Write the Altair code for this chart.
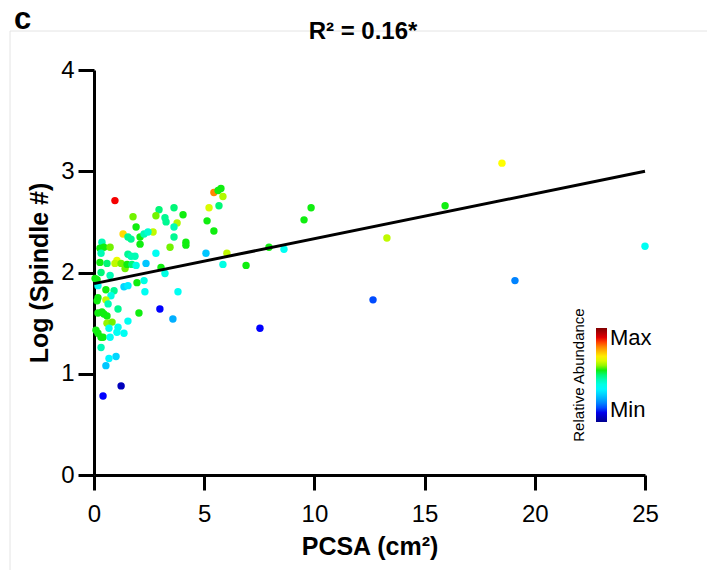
import altair as alt
import pandas as pd

# ---- data ----
pcsa = [
    25.0, 18.51, 19.10, 15.93, 13.29, 12.66, 9.85, 9.53, 8.62, 7.94, 7.53, 6.90,
    6.03, 5.85, 5.08, 5.44, 5.13, 5.67, 5.22, 5.44, 5.63, 5.76, 5.85,
    2.95, 3.63, 4.04, 2.81, 3.22, 3.27, 3.77, 3.63, 2.68, 3.63, 4.17, 4.17,
    3.45, 2.81, 3.04, 3.22, 3.81, 2.99, 3.58, 2.04,
    0.95, 1.32, 1.77, 1.91, 1.54, 1.68, 2.09, 2.09, 2.27, 2.45,
    0.36, 0.27, 0.45, 0.73, 0.32, 0.27, 0.59, 1.04, 0.95, 1.23, 1.41, 1.54,
    1.68, 1.86, 1.50, 1.72, 1.91, 2.36,
    0.32, 0.73, 1.95, 2.27, 0.18, 0.14, 0.54, 0.91, 1.36, 1.54, 0.18, 0.77, 2.31,
    0.14, 0.54, 0.64, 1.09, 0.18, 0.36, 0.45, 0.59, 0.59, 0.82, 0.68, 1.09,
    1.04, 1.54, 1.36, 0.09, 0.18, 0.32, 0.41, 0.73, 0.32, 1.00, 0.68, 0.54,
    1.23, 0.41, 0.05,
]
log_spindle = [
    2.26, 3.08, 1.92, 2.66, 2.34, 1.73, 2.64, 2.52, 2.23, 2.25, 1.45, 2.07,
    2.19, 2.08, 2.19, 2.41, 2.51, 2.66, 2.64, 2.79, 2.81, 2.83, 2.75,
    2.62, 2.64, 2.57, 2.56, 2.54, 2.50, 2.49, 2.45, 2.40, 2.35, 2.30, 2.27,
    2.25, 2.19, 2.05, 1.99, 1.81, 1.64, 1.54, 1.60,
    2.71, 2.38, 2.55, 2.45, 2.35, 2.33, 2.35, 2.28, 2.38, 2.40,
    2.30, 2.24, 2.25, 2.25, 2.19, 2.10, 2.09, 2.12, 2.09, 2.09, 2.04, 2.18,
    2.16, 2.16, 2.08, 2.08, 2.07, 2.09,
    2.00, 1.97, 1.90, 1.92, 1.87, 1.93, 1.83, 1.82, 1.86, 1.87, 1.75, 1.77, 1.81,
    1.72, 1.73, 1.69, 1.64, 1.60, 1.61, 1.59, 1.57, 1.50, 1.51, 1.45, 1.46,
    1.41, 1.52, 1.40, 1.43, 1.40, 1.36, 1.36, 1.36, 1.26, 1.17, 1.15, 1.08,
    0.88, 0.78, 1.94,
]
abundance = [
    0.38, 0.68, 0.20, 0.55, 0.63, 0.15, 0.55, 0.55, 0.38, 0.55, 0.12, 0.55,
    0.63, 0.40, 0.28, 0.55, 0.55, 0.50, 0.65, 0.80, 0.55, 0.55, 0.62,
    0.50, 0.50, 0.55, 0.58, 0.48, 0.48, 0.62, 0.45, 0.63, 0.48, 0.55, 0.55,
    0.58, 0.38, 0.55, 0.40, 0.38, 0.12, 0.25, 0.55,
    0.88, 0.72, 0.58, 0.55, 0.48, 0.48, 0.55, 0.55, 0.45, 0.42,
    0.45, 0.55, 0.55, 0.58, 0.45, 0.55, 0.50, 0.66, 0.63, 0.58, 0.58, 0.48,
    0.45, 0.45, 0.55, 0.50, 0.40, 0.28,
    0.50, 0.45, 0.55, 0.40, 0.38, 0.55, 0.55, 0.48, 0.30, 0.33, 0.55, 0.40, 0.38,
    0.55, 0.63, 0.45, 0.48, 0.55, 0.55, 0.55, 0.55, 0.60, 0.58, 0.38, 0.38,
    0.38, 0.38, 0.38, 0.55, 0.55, 0.55, 0.55, 0.38, 0.45, 0.30, 0.35, 0.28,
    0.05, 0.12, 0.55,
]

fit_intercept = 1.89
fit_slope = 0.0444
fit_x = [0, 25]

x_ticks = [0, 5, 10, 15, 20, 25]
y_ticks = [0, 1, 2, 3, 4]

jet_stops = [0, 0.12, 0.36, 0.55, 0.68, 0.87, 1]
jet_colors = ["#00008F", "#0000FF", "#00FFFF", "#10EE10", "#FFFF00", "#FF0000", "#800000"]

df = pd.DataFrame({"PCSA": pcsa, "LogSpindle": log_spindle, "Abundance": abundance})
fit_df = pd.DataFrame({"PCSA": fit_x,
                       "LogSpindle": [fit_intercept + fit_slope * v for v in fit_x]})

FONT = "Liberation Sans, Arial, sans-serif"

x_scale = alt.Scale(domain=[0, 25], nice=False, zero=False)
y_scale = alt.Scale(domain=[0, 4], nice=False)

x_axis = alt.Axis(title="PCSA (cm²)", values=x_ticks, grid=False, format="d",
                  labelFontSize=24, labelFont=FONT, labelColor="black",
                  titleFontSize=25, titleFont=FONT, titleFontWeight="bold", titleColor="black",
                  tickSize=15, tickWidth=3, tickColor="black",
                  domainWidth=3, domainColor="black", labelPadding=12, titlePadding=8,
                  labelFlush=False)
y_axis = alt.Axis(title="Log (Spindle #)", values=y_ticks, grid=False, format="d",
                  labelFontSize=24, labelFont=FONT, labelColor="black",
                  titleFontSize=25, titleFont=FONT, titleFontWeight="bold", titleColor="black",
                  tickSize=16, tickWidth=3, tickColor="black",
                  domainWidth=3, domainColor="black", labelPadding=4, titlePadding=8,
                  labelFlush=False)

points = alt.Chart(df).mark_circle(size=55, opacity=1).encode(
    x=alt.X("PCSA:Q", scale=x_scale, axis=x_axis),
    y=alt.Y("LogSpindle:Q", scale=y_scale, axis=y_axis),
    color=alt.Color(
        "Abundance:Q",
        scale=alt.Scale(domain=jet_stops, range=jet_colors),
        legend=alt.Legend(
            title="Relative Abundance", titleOrient="left", titleAnchor="middle",
            titleFontSize=15, titleFontWeight="normal", titleFont=FONT, titleColor="black",
            titlePadding=8, orient="none", legendX=478, legendY=258,
            gradientLength=94, gradientThickness=11, gradientStrokeWidth=0,
            values=[0, 1], labelExpr="datum.value == 0 ? 'Min' : 'Max'",
            labelFontSize=22, labelFont=FONT, labelColor="black", labelOffset=3,
            direction="vertical", padding=0,
        ),
    ),
)

fit_line = alt.Chart(fit_df).mark_line(color="black", strokeWidth=3).encode(
    x=alt.X("PCSA:Q", scale=x_scale),
    y=alt.Y("LogSpindle:Q", scale=y_scale),
)

panel_label = alt.Chart(pd.DataFrame({"t": ["c"]})).mark_text(
    fontSize=31, fontWeight="bold", font=FONT, align="left", baseline="alphabetic", color="black"
).encode(x=alt.value(-80), y=alt.value(-41), text="t:N")

title_text = alt.Chart(pd.DataFrame({"t": ["R² = 0.16*"]})).mark_text(
    fontSize=24, fontWeight="bold", font=FONT, align="center", baseline="alphabetic", color="black"
).encode(x=alt.value(269), y=alt.value(-31), text="t:N")

frame_v = alt.Chart(pd.DataFrame({"a": [0]})).mark_rule(color="#E4E4E4", strokeWidth=1).encode(
    x=alt.value(-84), y=alt.value(-39), y2=alt.value(500))
frame_h = alt.Chart(pd.DataFrame({"a": [0]})).mark_rule(color="#E4E4E4", strokeWidth=1).encode(
    x=alt.value(-84), x2=alt.value(613), y=alt.value(-39))

chart = alt.layer(frame_v, frame_h, points, fit_line, panel_label, title_text).properties(
    width=551, height=405,
    padding={"left": 94, "top": 70, "right": 62, "bottom": 95},
    autosize=alt.AutoSizeParams(type="none"),
).configure_view(stroke=None)

chart.save("out.html", embed_options={"renderer": "svg", "actions": False})
